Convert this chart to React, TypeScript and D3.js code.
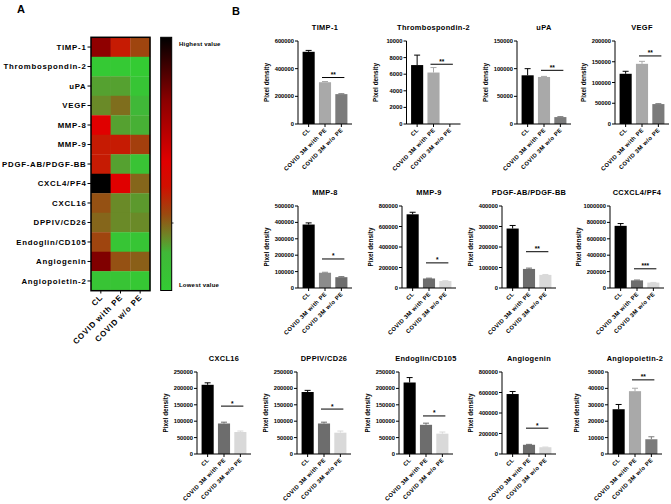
import React from 'react';
import * as d3 from 'd3';

// ---------- Panel A: heatmap data ----------
const heatRows = ['TIMP-1', 'Thrombospondin-2', 'uPA', 'VEGF', 'MMP-8', 'MMP-9', 'PDGF-AB/PDGF-BB', 'CXCL4/PF4', 'CXCL16', 'DPPIV/CD26', 'Endoglin/CD105', 'Angiogenin', 'Angiopoietin-2'];
const heatCols = ['CL', 'COVID with PE', 'COVID w/o PE'];
const heatCL = [0.74, 0.02, 0.18, 0.21, 0.51, 0.39, 0.39, 1.0, 0.29, 0.26, 0.31, 0.77, 0.06];
const heatWithPE = [0.39, 0.02, 0.18, 0.25, 0.18, 0.39, 0.18, 0.51, 0.21, 0.21, 0.05, 0.29, 0.06];
const heatWoPE = [0.31, 0.01, 0.05, 0.15, 0.16, 0.32, 0.07, 0.26, 0.19, 0.21, 0.05, 0.27, 0.03];

// ---------- Panel B: bar chart data ----------
const groups = ['CL', 'COVID 3M with PE', 'COVID 3M w/o PE'];
const panelTitles = ['TIMP-1', 'Thrombospondin-2', 'uPA', 'VEGF', 'MMP-8', 'MMP-9', 'PDGF-AB/PDGF-BB', 'CCXCL4/PF4', 'CXCL16', 'DPPIV/CD26', 'Endoglin/CD105', 'Angiogenin', 'Angiopoietin-2'];
const meanCL = [522000, 7100, 88000, 121000, 387000, 719000, 290000, 758000, 211000, 189000, 218000, 585000, 27300];
const errCL = [10000, 1200, 12000, 6000, 10000, 20000, 15000, 28000, 6000, 5000, 15000, 25000, 2900];
const meanWithPE = [302000, 6200, 85000, 145000, 93000, 93000, 93000, 93000, 93000, 93000, 89000, 90000, 38300];
const errWithPE = [5000, 600, 1000, 6000, 3000, 3000, 4000, 4000, 4000, 4000, 5000, 4000, 1800];
const meanWoPE = [216000, 0, 12500, 48000, 66000, 68000, 64000, 66000, 67000, 65000, 62000, 66000, 9000];
const errWoPE = [3000, 0, 800, 1000, 3000, 3000, 2000, 2000, 3000, 5000, 5000, 2000, 1500];
const yMax = [600000, 10000, 150000, 200000, 500000, 800000, 400000, 1000000, 250000, 250000, 250000, 800000, 50000];
const yStep = [200000, 2000, 50000, 50000, 100000, 200000, 100000, 200000, 50000, 50000, 50000, 200000, 10000];
const sigLevel = [336000, 7200, 97000, 164000, 177000, 245000, 177000, 234000, 146000, 137000, 116000, 252000, 45200];
const sigStars = ['**', '**', '**', '**', '*', '*', '**', '***', '*', '*', '*', '*', '**'];

// ---------- layout / style (not data) ----------
const panelLeft = [298, 406.5, 517, 615, 298, 402, 502, 610, 197, 297, 399, 502, 608];
const panelTop = [41, 41, 41, 41, 206, 206, 206, 206, 372, 372, 372, 372, 372];
const panelH = [83, 83, 83, 83, 82, 82, 82, 82, 82, 82, 82, 82, 82];
const PANEL_W = 54;
const LIGHT = '#a9a9a9';
const DARK = '#6d6d6d';
const PALE = '#d9d9d9';
const MID = '#8c8c8c';
const withColor = [LIGHT, LIGHT, LIGHT, LIGHT, MID, DARK, DARK, DARK, DARK, DARK, DARK, DARK, LIGHT];
const woColor = ['#7b7b7b', '#7b7b7b', '#7b7b7b', '#7b7b7b', DARK, PALE, PALE, PALE, PALE, PALE, PALE, PALE, '#7b7b7b'];

const FONT = '"Liberation Sans", Arial, sans-serif';

const heatStops = [0, 0.15, 0.21, 0.3, 0.41, 0.51, 0.75, 1];
const heatColors = ['#33cc33', '#40b838', '#6a8a28', '#9a4a10', '#d01000', '#e00000', '#8b0000', '#000000'];

function BarPanel({ i }: { i: number }) {
  const left = panelLeft[i];
  const top = panelTop[i];
  const h = panelH[i];
  const bottom = top + h;
  const x = d3.scaleBand<string>().domain(groups).range([left, left + PANEL_W]).paddingInner(0.26).paddingOuter(0.28);
  const y = d3.scaleLinear().domain([0, yMax[i]]).range([bottom, top]);
  const ticks = d3.range(0, yMax[i] + 1, yStep[i]);
  const means = [meanCL[i], meanWithPE[i], meanWoPE[i]];
  const errs = [errCL[i], errWithPE[i], errWoPE[i]];
  const colors = ['#000000', withColor[i], woColor[i]];
  const bw = x.bandwidth();
  const c = (g: string) => (x(g) as number) + bw / 2;
  const sy = y(sigLevel[i]);
  return (
    <g fontFamily={FONT} fontWeight="bold" fill="#000">
      <text x={left + PANEL_W / 2} y={top - 11} textAnchor="middle" fontSize={7.4} letterSpacing={0.35}>{panelTitles[i]}</text>
      {means.map((m, k) => {
        const g = groups[k];
        if (m <= 0) return null;
        const cx = c(g);
        return (
          <g key={g}>
            <rect x={x(g)} y={y(m)} width={bw} height={bottom - y(m)} fill={colors[k]} />
            <line x1={cx} x2={cx} y1={y(m)} y2={y(m + errs[k])} stroke={colors[k]} strokeWidth={1} />
            <line x1={cx - 3} x2={cx + 3} y1={y(m + errs[k])} y2={y(m + errs[k])} stroke={colors[k]} strokeWidth={1} />
          </g>
        );
      })}
      <line x1={left} x2={left} y1={top} y2={bottom} stroke="#000" strokeWidth={1} />
      <line x1={left} x2={left + PANEL_W} y1={bottom} y2={bottom} stroke="#000" strokeWidth={1} />
      {ticks.map((t) => (
        <g key={t}>
          <line x1={left - 3} x2={left} y1={y(t)} y2={y(t)} stroke="#000" strokeWidth={1} />
          <text x={left - 4} y={y(t) + 2} textAnchor="end" fontSize={5.8}>{t}</text>
        </g>
      ))}
      {groups.map((g) => (
        <g key={g}>
          <line x1={c(g)} x2={c(g)} y1={bottom} y2={bottom + 3} stroke="#000" strokeWidth={1} />
          <text transform={`translate(${c(g) + 2},${bottom + 6.5}) rotate(-45)`} textAnchor="end" fontSize={5.8} letterSpacing={0.45}>{g}</text>
        </g>
      ))}
      <text transform={`translate(${left - 29},${top + h / 2}) rotate(-90)`} textAnchor="middle" fontSize={6.4}>Pixel density</text>
      <line x1={c(groups[1]) - 3} x2={c(groups[2]) + 3} y1={sy} y2={sy} stroke="#000" strokeWidth={1} />
      <text x={(c(groups[1]) + c(groups[2])) / 2} y={sy - 0.5} textAnchor="middle" fontSize={6.5}>{sigStars[i]}</text>
    </g>
  );
}

export default function App() {
  const hx = d3.scaleBand<string>().domain(heatCols).range([91, 150]);
  const hy = d3.scaleBand<string>().domain(heatRows).range([37.3, 290.7]);
  const color = d3.scaleLinear<string>().domain(heatStops).range(heatColors).interpolate(d3.interpolateRgb);
  const heatVals = [heatCL, heatWithPE, heatWoPE];
  const cbTop = 37.3;
  const cbBottom = 290.5;
  return (
    <svg width={671} height={504} style={{ position: 'absolute', left: 0, top: 0, background: '#fff' }}>
      <defs>
        <linearGradient id="cbar" x1="0" y1="1" x2="0" y2="0">
          {heatStops.map((s, k) => (
            <stop key={k} offset={s} stopColor={heatColors[k]} />
          ))}
        </linearGradient>
      </defs>
      <rect width={671} height={504} fill="#fff" />
      <text x={17} y={12.5} fontFamily={FONT} fontWeight="bold" fontSize={11} fill="#000">A</text>
      <text x={232} y={15} fontFamily={FONT} fontWeight="bold" fontSize={11} fill="#000">B</text>

      {/* heatmap */}
      <g fontFamily={FONT} fontWeight="bold" fill="#000">
        {heatCols.map((col, ci) =>
          heatRows.map((row, ri) => (
            <rect key={col + row} x={hx(col)} y={hy(row)} width={hx.bandwidth() + 0.3} height={hy.bandwidth() + 0.3} fill={color(heatVals[ci][ri])} />
          ))
        )}
        <rect x={91} y={37.3} width={59} height={253.4} fill="none" stroke="#000" strokeWidth={1.5} />
        {heatRows.map((row) => {
          const cy = (hy(row) as number) + hy.bandwidth() / 2;
          return (
            <g key={row}>
              <line x1={87.5} x2={91} y1={cy} y2={cy} stroke="#000" strokeWidth={1} />
              <text x={86.5} y={cy + 2.8} textAnchor="end" fontSize={7.8} letterSpacing={0.75}>{row}</text>
            </g>
          );
        })}
        {heatCols.map((col) => {
          const cx = (hx(col) as number) + hx.bandwidth() / 2;
          return (
            <g key={col}>
              <line x1={cx} x2={cx} y1={290.7} y2={293.5} stroke="#000" strokeWidth={1} />
              <text transform={`translate(${cx + 2.5},${298}) rotate(-45)`} textAnchor="end" fontSize={8} letterSpacing={0.75}>{col}</text>
            </g>
          );
        })}
        {/* colour bar */}
        <rect x={160.7} y={cbTop} width={11} height={cbBottom - cbTop} fill="url(#cbar)" stroke="#000" strokeWidth={1} />
        <line x1={171.7} x2={173.5} y1={223} y2={223} stroke="#000" strokeWidth={0.8} />
        <text x={179} y={46} fontSize={6} letterSpacing={0.2}>Highest value</text>
        <text x={179} y={287} fontSize={6} letterSpacing={0.2}>Lowest value</text>
      </g>

      {panelTitles.map((_, i) => (
        <BarPanel key={i} i={i} />
      ))}
    </svg>
  );
}
